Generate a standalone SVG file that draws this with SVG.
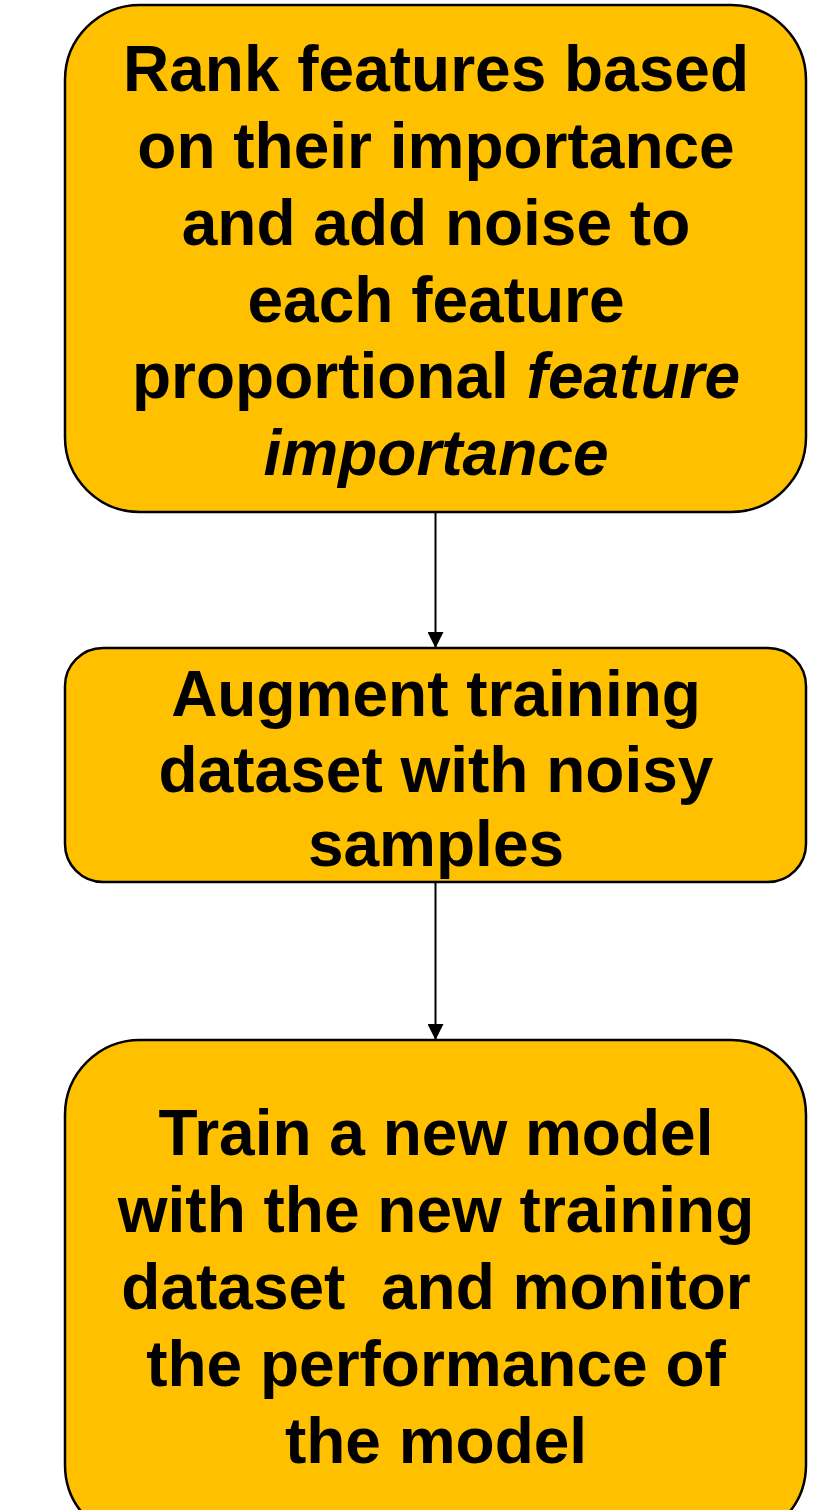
<svg xmlns="http://www.w3.org/2000/svg" width="814" height="1510" viewBox="0 0 814 1510">
<defs>
<style>
.box{fill:#FFC000;stroke:#000;stroke-width:2.5}
.t{font-family:"Liberation Sans",Arial,sans-serif;font-weight:bold;font-size:64px;fill:#000;text-anchor:middle;white-space:pre}
.edge{stroke:#000;stroke-width:2;fill:none}
</style>
<marker id="ah" viewBox="0 0 16 16" refX="16" refY="8" markerWidth="16" markerHeight="16" markerUnits="userSpaceOnUse" orient="auto">
<path d="M0,0 L16,8 L0,16 Z" fill="#000"/>
</marker>
</defs>
<rect width="814" height="1510" fill="#fff"/>
<g id="connectors">
<line class="edge" x1="435.5" y1="512" x2="435.5" y2="648" marker-end="url(#ah)"/>
<line class="edge" x1="435.5" y1="882" x2="435.5" y2="1040" marker-end="url(#ah)"/>
</g>
<g id="node1">
<rect class="box" x="65" y="5" width="741" height="507" rx="75" ry="75"/>
<text class="t" x="436" y="91">Rank features based</text>
<text class="t" x="436" y="168">on their importance</text>
<text class="t" x="436" y="245">and add noise to</text>
<text class="t" x="436" y="322">each feature</text>
<text class="t" x="436" y="398">proportional <tspan font-style="italic">feature</tspan></text>
<text class="t" x="436" y="475" font-style="italic">importance</text>
</g>
<g id="node2">
<rect class="box" x="65" y="648" width="741" height="234" rx="38" ry="38"/>
<text class="t" x="436" y="716">Augment training</text>
<text class="t" x="436" y="792">dataset with noisy</text>
<text class="t" x="436" y="866">samples</text>
</g>
<g id="node3">
<rect class="box" x="65" y="1040" width="741" height="500" rx="75" ry="75"/>
<text class="t" x="436" y="1155">Train a new model</text>
<text class="t" x="436" y="1232">with the new training</text>
<text class="t" x="436" y="1309">dataset  and monitor</text>
<text class="t" x="436" y="1386">the performance of</text>
<text class="t" x="436" y="1463">the model</text>
</g>
</svg>
